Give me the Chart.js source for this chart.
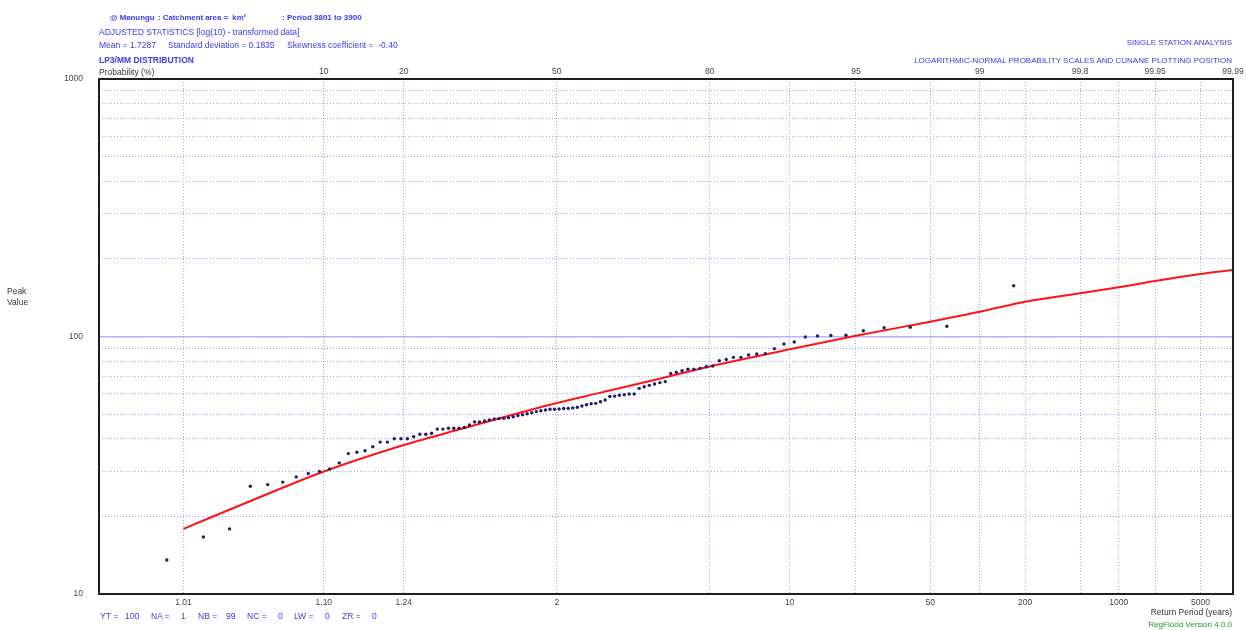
<!DOCTYPE html>
<html><head><meta charset="utf-8">
<script src="https://cdn.jsdelivr.net/npm/chart.js@4.4.1/dist/chart.umd.min.js"></script>
<style>
html,body{margin:0;padding:0;background:#fff;}
#wrap{position:relative;width:1246px;height:630px;overflow:hidden;font-family:"Liberation Sans",Arial,sans-serif;}
#c{position:absolute;left:0;top:0;}
.t{position:absolute;white-space:pre;line-height:1;font-size:8.5px;color:#3a3af0;}
.bold{font-weight:bold;}
.dark{color:#333;}
.green{color:#1f9a1f;}
.r{text-align:right;}
</style>
</head><body>
<div id="wrap">
<canvas id="c" width="1246" height="630"></canvas>
<div class="t bold" style="left:110px;top:14px;font-size:7.8px;">@ Manungu</div>
<div class="t bold" style="left:158px;top:14px;font-size:7.8px;">: Catchment area =  km²</div>
<div class="t bold" style="left:282px;top:14px;font-size:8px;">: Period 3801 to 3900</div>
<div class="t" style="left:99px;top:28px;">ADJUSTED STATISTICS [log(10) - transformed data]</div>
<div class="t" style="left:99px;top:41px;">Mean = 1.7287</div>
<div class="t" style="left:168px;top:41px;">Standard deviation = 0.1835</div>
<div class="t" style="left:287px;top:41px;">Skewness coefficient =  -0.40</div>
<div class="t bold" style="left:99px;top:56px;">LP3/MM DISTRIBUTION</div>
<div class="t dark" style="left:99px;top:68px;">Probability (%)</div>
<div class="t r" style="right:14px;top:39px;font-size:8px;">SINGLE STATION ANALYSIS</div>
<div class="t r" style="right:14px;top:57px;font-size:8px;">LOGARITHMIC-NORMAL PROBABILITY SCALES AND CUNANE PLOTTING POSITION</div>
<div class="t dark" style="left:7px;top:287px;">Peak</div>
<div class="t dark" style="left:7px;top:298px;">Value</div>
<div class="t" style="left:100px;top:612px;">YT =</div><div class="t" style="left:125px;top:612px;">100</div>
<div class="t" style="left:151px;top:612px;">NA =</div><div class="t" style="left:181px;top:612px;">1</div>
<div class="t" style="left:198px;top:612px;">NB =</div><div class="t" style="left:226px;top:612px;">99</div>
<div class="t" style="left:247px;top:612px;">NC =</div><div class="t" style="left:278px;top:612px;">0</div>
<div class="t" style="left:294px;top:612px;">LW =</div><div class="t" style="left:325px;top:612px;">0</div>
<div class="t" style="left:342px;top:612px;">ZR =</div><div class="t" style="left:372px;top:612px;">0</div>
<div class="t dark r" style="right:14px;top:608px;">Return Period (years)</div>
<div class="t green r" style="right:14px;top:621px;font-size:8px;">RegFlood Version 4.0.0</div>
</div>
<script>
// ---------------- DATA ----------------
const recordLength = 100; // YT (years), Cunnane plotting position uses N = 100
// Observed annual peaks, ranked from largest (rank 1) to smallest (rank 99)
const peakValues = [
  157.5, 109.6, 108.6, 108.2, 105.3, 101.1, 100.9, 100.5, 99.6, 95.2,
  93.5, 89.7, 85.8, 85.5, 84.8, 83.0, 83.0, 81.4, 80.5, 76.8,
  76.3, 75.2, 74.6, 74.6, 73.6, 72.6, 71.9, 66.8, 66.2, 65.4,
  64.6, 63.8, 62.9, 59.8, 59.8, 59.4, 59.1, 58.7, 58.5, 56.7,
  55.8, 55.0, 54.8, 54.3, 53.7, 53.1, 52.8, 52.6, 52.5, 52.3,
  52.2, 52.2, 51.8, 51.5, 51.1, 50.6, 50.1, 49.7, 49.3, 48.8,
  48.4, 48.1, 48.0, 47.8, 47.4, 47.0, 46.6, 46.6, 45.3, 44.3,
  44.0, 44.0, 44.0, 43.7, 43.7, 42.1, 41.7, 41.7, 40.8, 40.1,
  40.1, 40.1, 38.9, 38.9, 37.3, 36.0, 35.5, 35.1, 32.3, 30.6,
  29.9, 29.4, 28.5, 27.2, 26.6, 26.2, 17.9, 16.65, 13.55
];
// Fitted LP3/MM distribution curve (non-exceedance probability %, peak value)
const fitProbability = [2, 5, 10, 20, 30, 50, 60, 70, 80, 90, 95, 98, 99, 99.5, 99.8, 99.9, 99.95, 99.98, 99.99];
const fitPeak        = [17.9, 23.6, 29.9, 37.9, 43.8, 55.2, 60.8, 67.5, 76.5, 89.2, 100.6, 114.2, 124.8, 136.5, 147.2, 155.3, 164.3, 174.8, 181.3];
// Probability grid (non-exceedance %) and its labels
const gridProbability    = [2, 10, 20, 50, 80, 90, 95, 98, 99, 99.5, 99.8, 99.9, 99.95, 99.98, 99.99];
const probabilityLabels  = ['', '10', '20', '50', '80', '', '95', '', '99', '', '99.8', '', '99.95', '', '99.99'];
const returnPeriodLabels = ['1.01', '1.10', '1.24', '2', '', '10', '', '50', '', '200', '', '1000', '', '5000', ''];
const axisMinProbability = 0.59;
const axisMaxProbability = 99.99;
// Value axis
const valueGrid   = [10,20,30,40,50,60,70,80,90,100,200,300,400,500,600,700,800,900,1000];
const valueLabels = [10, 100, 1000];

// ---------------- SCALE HELPERS ----------------
function probit(p){
  const a=[-3.969683028665376e+01,2.209460984245205e+02,-2.759285104469687e+02,1.383577518672690e+02,-3.066479806614716e+01,2.506628277459239e+00];
  const b=[-5.447609879822406e+01,1.615858368580409e+02,-1.556989798598866e+02,6.680131188771972e+01,-1.328068155288572e+01];
  const c=[-7.784894002430293e-03,-3.223964580411365e-01,-2.400758277161838e+00,-2.549732539343734e+00,4.374664141464968e+00,2.938163982698783e+00];
  const d=[7.784695709041462e-03,3.224671290700398e-01,2.445134137142996e+00,3.754408661907416e+00];
  const pl=0.02425, ph=1-pl; let q,r;
  if(p<pl){q=Math.sqrt(-2*Math.log(p));return (((((c[0]*q+c[1])*q+c[2])*q+c[3])*q+c[4])*q+c[5])/((((d[0]*q+d[1])*q+d[2])*q+d[3])*q+1);}
  if(p<=ph){q=p-0.5;r=q*q;return (((((a[0]*r+a[1])*r+a[2])*r+a[3])*r+a[4])*r+a[5])*q/(((((b[0]*r+b[1])*r+b[2])*r+b[3])*r+b[4])*r+1);}
  q=Math.sqrt(-2*Math.log(1-p));return -(((((c[0]*q+c[1])*q+c[2])*q+c[3])*q+c[4])*q+c[5])/((((d[0]*q+d[1])*q+d[2])*q+d[3])*q+1);
}
const zOf = pct => probit(pct/100);
const xMin = zOf(axisMinProbability), xMax = zOf(axisMaxProbability);

// Cunnane plotting position: exceedance = (m - 0.4) / (N + 0.2)
const observedPoints = peakValues.map((v,i)=>({x: probit(1 - (i+1-0.4)/(recordLength+0.2)), y: v}));
const fitPoints = fitProbability.map((p,i)=>({x: zOf(p), y: fitPeak[i]}));

const tickFont = {family:'"Liberation Sans", Arial, sans-serif', size:8.5};
const gridBlue = '#a3a3ff';

const framePlugin = {
  id:'frame',
  afterDraw(chart){
    const {ctx, chartArea:a} = chart;
    ctx.save();
    ctx.strokeStyle = '#1e1e1e';
    ctx.lineWidth = 2;
    ctx.strokeRect(a.left, a.top, a.right - a.left, a.bottom - a.top);
    ctx.restore();
  }
};

new Chart(document.getElementById('c'), {
  type:'scatter',
  data:{datasets:[
    {label:'Observed', data:observedPoints, pointStyle:'circle', pointRadius:1.7, backgroundColor:'#1f1f66', borderWidth:0, order:0},
    {label:'LP3/MM', data:fitPoints, showLine:true, borderColor:'#ff1414', borderWidth:2, pointRadius:0, cubicInterpolationMode:'monotone', order:1}
  ]},
  options:{
    responsive:false, animation:false, devicePixelRatio:1,
    layout:{padding:{left:0, right:13, top:0, bottom:0}},
    plugins:{legend:{display:false}, tooltip:{enabled:false}},
    scales:{
      x:{
        type:'linear', position:'bottom', min:xMin, max:xMax,
        afterBuildTicks: s => { s.ticks = gridProbability.map(p => ({value: zOf(p)})); },
        afterFit: s => { s.height = 36; },
        ticks:{autoSkip:false, maxRotation:0, padding:4, font:tickFont, color:'#444',
               callback:(v,i)=>returnPeriodLabels[i]},
        grid:{color:gridBlue, lineWidth:1, drawTicks:false},
        border:{display:false, dash:[1,2]}
      },
      x2:{
        type:'linear', position:'top', min:xMin, max:xMax,
        afterBuildTicks: s => { s.ticks = gridProbability.map(p => ({value: zOf(p)})); },
        afterFit: s => { s.height = 79; },
        ticks:{autoSkip:false, maxRotation:0, padding:2, font:tickFont, color:'#444',
               callback:(v,i)=>probabilityLabels[i]},
        grid:{display:false, drawTicks:false},
        border:{display:false}
      },
      y:{
        type:'logarithmic', min:10, max:1000,
        afterBuildTicks: s => { s.ticks = valueGrid.map(v => ({value:v})); },
        afterFit: s => { s.width = 99; },
        ticks:{autoSkip:false, padding:16, font:tickFont, color:'#444',
               callback: v => valueLabels.includes(v) ? String(v) : ''},
        grid:{drawTicks:false,
              color: c => (c.tick && c.tick.value === 100) ? '#b4b4f6' : gridBlue,
              lineWidth: c => (c.tick && c.tick.value === 100) ? 1.5 : 1},
        border:{display:false, dash: c => (c.tick && c.tick.value === 100) ? [] : [1,2]}
      }
    }
  },
  plugins:[framePlugin]
});
</script>
</body></html>
